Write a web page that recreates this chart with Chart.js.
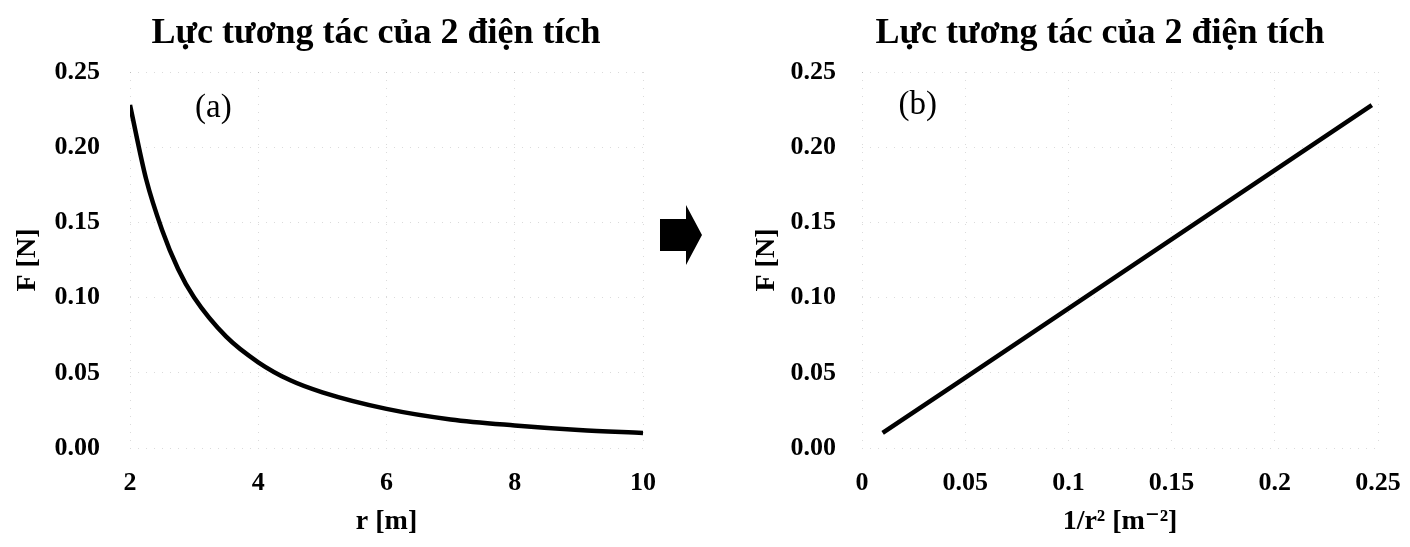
<!DOCTYPE html>
<html>
<head>
<meta charset="utf-8">
<script src="https://cdn.jsdelivr.net/npm/chart.js@4"></script>
<style>
html, body { margin: 0; padding: 0; background: #fff; width: 1410px; height: 547px; overflow: hidden; }
.box { position: absolute; top: 0; height: 547px; }
#box-a { left: 0; width: 752px; }
#box-b { left: 745px; width: 710px; }
</style>
</head>
<body>
<div class="box" id="box-a"><canvas id="chart-a"></canvas></div>
<div class="box" id="box-b"><canvas id="chart-b"></canvas></div>
<script>
// DATA
const chartTitle = 'Lực tương tác của 2 điện tích';

// (a) F against r
const rValues = [2, 2.25, 2.5, 2.75, 3, 3.5, 4, 4.5, 5, 6, 7, 8, 9, 10];
const forceA = [0.228, 0.179, 0.145, 0.119, 0.100, 0.074, 0.057, 0.045, 0.037, 0.026, 0.019, 0.015, 0.012, 0.010];

// (b) F against 1/r^2
const invR2 = [0.01, 0.247];
const forceB = [0.01, 0.228];

const yTicks = [0, 0.05, 0.1, 0.15, 0.2, 0.25];
const yTickLabels = ['0.00', '0.05', '0.10', '0.15', '0.20', '0.25'];
const xTicksA = [2, 4, 6, 8, 10];
const xTickLabelsA = ['2', '4', '6', '8', '10'];
const xTicksB = [0, 0.05, 0.1, 0.15, 0.2, 0.25];
const xTickLabelsB = ['0', '0.05', '0.1', '0.15', '0.2', '0.25'];

Chart.defaults.font.family = '"Liberation Serif", "DejaVu Serif", serif';
Chart.defaults.color = '#000';

const gridStyle = { color: 'rgba(0,0,0,0.14)', lineWidth: 1, drawTicks: false };
const borderStyle = { display: false, dash: [1, 7] };

function fixedTicks(values) {
    return scale => { scale.ticks = values.map(v => ({ value: v })); };
}

// text labels (a)/(b) and the arrow between the charts
const marks = {
    id: 'marks',
    afterDraw(chart, args, opts) {
        const ctx = chart.ctx;
        const x = chart.scales.x, y = chart.scales.y;
        ctx.save();
        ctx.fillStyle = '#000';
        ctx.font = '33px "Liberation Serif", serif';
        ctx.textAlign = 'center';
        ctx.textBaseline = 'middle';
        ctx.fillText(opts.label, x.getPixelForValue(opts.at[0]), y.getPixelForValue(opts.at[1]));
        if (opts.arrow) {
            const ax = chart.chartArea.right + 17;
            const ay = 235;
            ctx.beginPath();
            ctx.moveTo(ax, ay - 16);
            ctx.lineTo(ax + 26, ay - 16);
            ctx.lineTo(ax + 26, ay - 30);
            ctx.lineTo(ax + 42, ay);
            ctx.lineTo(ax + 26, ay + 30);
            ctx.lineTo(ax + 26, ay + 16);
            ctx.lineTo(ax, ay + 16);
            ctx.closePath();
            ctx.fill();
        }
        ctx.restore();
    }
};

function makeChart(canvasId, xs, ys, opt) {
    return new Chart(document.querySelector(canvasId).getContext('2d'), {
        type: 'line',
        data: {
            datasets: [{
                data: xs.map((v, i) => ({ x: v, y: ys[i] })),
                borderColor: '#000',
                borderWidth: 4.5,
                pointRadius: 0,
                cubicInterpolationMode: 'monotone',
                fill: false
            }]
        },
        options: {
            responsive: true,
            maintainAspectRatio: false,
            animation: false,
            layout: { padding: 0 },
            plugins: {
                legend: { display: false },
                tooltip: { enabled: false },
                title: {
                    display: true,
                    text: chartTitle,
                    font: { size: 36, weight: 'bold' },
                    padding: { top: 12, bottom: 16.8 }
                },
                marks: opt.marks
            },
            scales: {
                x: {
                    type: 'linear',
                    min: opt.xMin,
                    max: opt.xMax,
                    grid: gridStyle,
                    border: borderStyle,
                    afterBuildTicks: fixedTicks(opt.xTicks),
                    afterFit: s => { s.height = 99; },
                    ticks: {
                        padding: 20,
                        maxRotation: 0,
                        font: { size: 26, weight: 'bold' },
                        callback: (v, i) => opt.xLabels[i]
                    },
                    title: {
                        display: true,
                        text: opt.xTitle,
                        font: { size: 28, weight: 'bold' },
                        padding: { top: 0, bottom: 8 }
                    }
                },
                y: {
                    min: 0,
                    max: 0.25,
                    grid: gridStyle,
                    border: borderStyle,
                    afterBuildTicks: fixedTicks(yTicks),
                    afterFit: s => { s.width = opt.yWidth; },
                    ticks: {
                        padding: opt.yPad,
                        font: { size: 26, weight: 'bold' },
                        callback: (v, i) => yTickLabels[i]
                    },
                    title: {
                        display: true,
                        text: 'F [N]',
                        font: { size: 28, weight: 'bold' },
                        padding: { top: opt.yTitlePad, bottom: 0 }
                    }
                },
                // empty space on the right so the title sits where it should
                spacer: {
                    type: 'linear',
                    position: 'right',
                    display: true,
                    grid: { display: false },
                    border: { display: false },
                    ticks: { display: false },
                    afterFit: s => { s.width = opt.rightSpace; }
                }
            }
        },
        plugins: [marks]
    });
}

// CHART (a)
makeChart('#chart-a', rValues, forceA, {
    xMin: 2, xMax: 10,
    xTicks: xTicksA, xLabels: xTickLabelsA,
    xTitle: 'r [m]',
    yWidth: 130, yPad: 30, yTitlePad: 11,
    rightSpace: 109,
    marks: { label: '(a)', at: [3.3, 0.226], arrow: true }
});

// CHART (b)
makeChart('#chart-b', invR2, forceB, {
    xMin: 0, xMax: 0.25,
    xTicks: xTicksB, xLabels: xTickLabelsB,
    xTitle: '1/r² [m⁻²]',
    yWidth: 117, yPad: 26, yTitlePad: 5,
    rightSpace: 77,
    marks: { label: '(b)', at: [0.027, 0.228], arrow: false }
});
</script>
</body>
</html>
